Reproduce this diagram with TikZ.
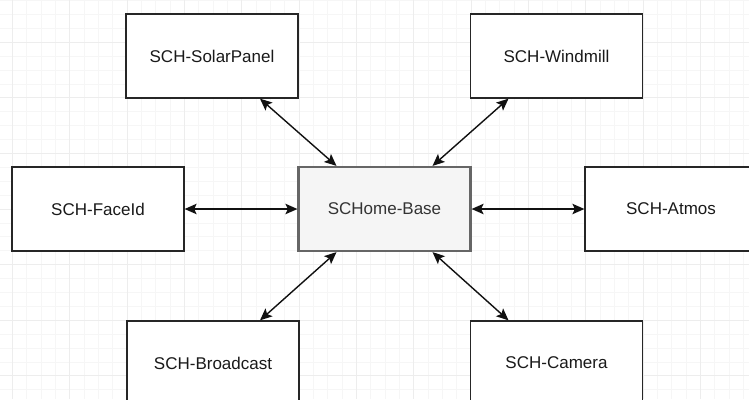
\documentclass[tikz,border=0pt]{standalone}
\usepackage{fontspec}
\setmainfont{Liberation Sans}
\usetikzlibrary{arrows.meta,calc}
\definecolor{gridminor}{HTML}{F6F6F6}
\definecolor{gridmajor}{HTML}{EDEDED}
\definecolor{hubfill}{HTML}{F5F5F5}
\definecolor{hubline}{HTML}{666666}
\definecolor{hubtext}{HTML}{333333}
\definecolor{boxtext}{HTML}{1A1A1A}
\definecolor{linkcol}{HTML}{111111}
\begin{document}
\begin{tikzpicture}[x=1pt,y=-1pt,
  box/.style={draw=black!85, line width=1.3pt, fill=white, minimum width=172pt, minimum height=84pt, inner sep=0pt, font=\fontsize{17}{20}\selectfont, text=boxtext},
  hub/.style={box, draw=hubline, line width=2.2pt, fill=hubfill, text=hubtext},
  link/.style={draw=linkcol, line width=1.4pt, >={Stealth[length=12pt,width=10.5pt,inset=2.5pt]}, <->}
]
\useasboundingbox (0,0) rectangle (749,399);
\clip (0,0) rectangle (749,399);
\fill[white] (0,0) rectangle (749,399);
% grid
\foreach \k in {-1,...,52} \draw[gridminor, line width=0.9pt] ({12.33+14.333*\k},0) -- ++(0,399);
\foreach \k in {-4,...,26} \draw[gridminor, line width=0.9pt] (0,{42.3+13.9*\k}) -- ++(749,0);
\foreach \k in {0,...,13} \draw[gridmajor, line width=0.9pt] ({12.33+57.333*\k},0) -- ++(0,399);
\foreach \k in {0,...,6} \draw[gridmajor, line width=0.9pt] (0,{42.3+55.6*\k}) -- ++(749,0);
% nodes
\node[box] (sp) at (212,56) {SCH-SolarPanel};
\node[box] (wm) at (556.5,56) {SCH-Windmill};
\node[box] (fi) at (98,209) {SCH-FaceId};
\node[hub] (c) at (384.5,209) {SCHome-Base};
\node[box] (at) at (671,209) {SCH-Atmos};
\node[box] (bc) at (213,363) {SCH-Broadcast};
\node[box] (cam) at (556.5,363) {SCH-Camera};
% links
\draw[link] ($(sp.south)+(48,0)$) -- ($(c.north)+(-48,0)$);
\draw[link] ($(wm.south)+(-48,0)$) -- ($(c.north)+(48,0)$);
\draw[link] (fi.east) -- (c.west);
\draw[link] (c.east) -- (at.west);
\draw[link] ($(c.south)+(-48,0)$) -- ($(bc.north)+(47,0)$);
\draw[link] ($(c.south)+(48,0)$) -- ($(cam.north)+(-48,0)$);
\end{tikzpicture}
\end{document}
